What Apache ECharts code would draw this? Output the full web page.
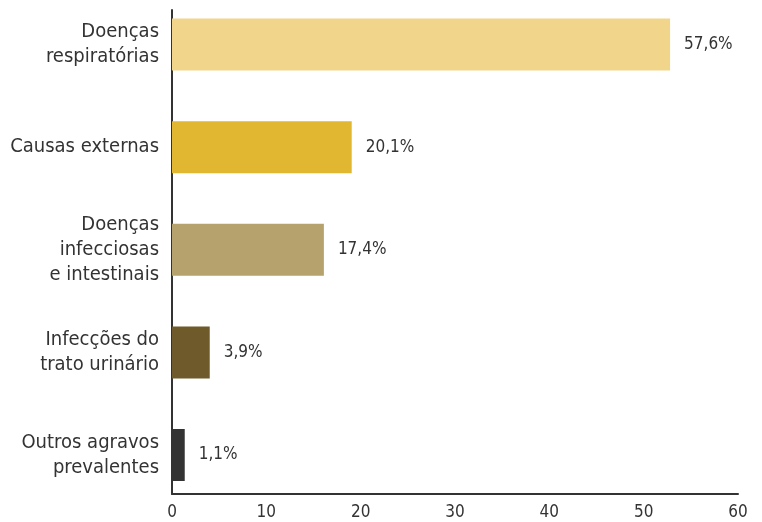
<!DOCTYPE html>
<html>
<head>
<meta charset="utf-8">
<script src="https://cdn.jsdelivr.net/npm/echarts@6/dist/echarts.min.js"></script>
<style>html,body{margin:0;padding:0;background:#fff}#c{width:762px;height:522px}</style>
</head>
<body>
<div id="c"></div>
<script>
const categories = ["Doenças\nrespiratórias", "Causas externas", "Doenças\ninfecciosas\ne intestinais", "Infecções do\ntrato urinário", "Outros agravos\nprevalentes"];
const values = [52.8, 19.05, 16.1, 4.0, 1.35];
const valueLabels = ["57,6%", "20,1%", "17,4%", "3,9%", "1,1%"];
const colors = ["#F0D58A", "#E1B731", "#B5A26D", "#6E5A2B", "#333333"];
const xTicks = [0, 10, 20, 30, 40, 50, 60];

const FONT = '"DejaVu Sans Condensed", "Liberation Sans Narrow", sans-serif';
const chart = echarts.init(document.getElementById('c'), null, {renderer: 'canvas'});
chart.setOption({
  animation: false,
  backgroundColor: '#fff',
  grid: [
    {left: 172, right: 24, top: 44.5, bottom: 67, containLabel: false},
    {left: 172, right: 24, top: 10, bottom: 28, containLabel: false}
  ],
  xAxis: [
    {gridIndex: 0, type: 'value', min: 0, max: 60, show: false},
    {gridIndex: 1, type: 'value', min: xTicks[0], max: xTicks[xTicks.length-1], interval: 10,
     axisLine: {show: true, lineStyle: {color: '#333', width: 2}},
     axisTick: {show: false}, splitLine: {show: false},
     axisLabel: {color: '#333', fontSize: 17, fontFamily: FONT, margin: 10}}
  ],
  yAxis: [
    {gridIndex: 0, type: 'category', data: categories, inverse: true, boundaryGap: false,
     axisLine: {show: false}, axisTick: {show: false},
     axisLabel: {color: '#333', fontSize: 20, lineHeight: 25, fontFamily: FONT, margin: 13, align: 'right'}},
    {gridIndex: 1, type: 'value', min: 0, max: 1,
     axisLine: {show: true, lineStyle: {color: '#333', width: 2}},
     axisTick: {show: false}, splitLine: {show: false}, axisLabel: {show: false}}
  ],
  series: [{
    type: 'bar', xAxisIndex: 0, yAxisIndex: 0, barWidth: 52,
    data: values.map((v, i) => ({value: v, itemStyle: {color: colors[i]}})),
    label: {show: true, position: 'right', distance: 14, color: '#333', fontSize: 17, fontFamily: FONT,
            formatter: p => valueLabels[p.dataIndex]}
  }]
});
</script>
</body>
</html>
